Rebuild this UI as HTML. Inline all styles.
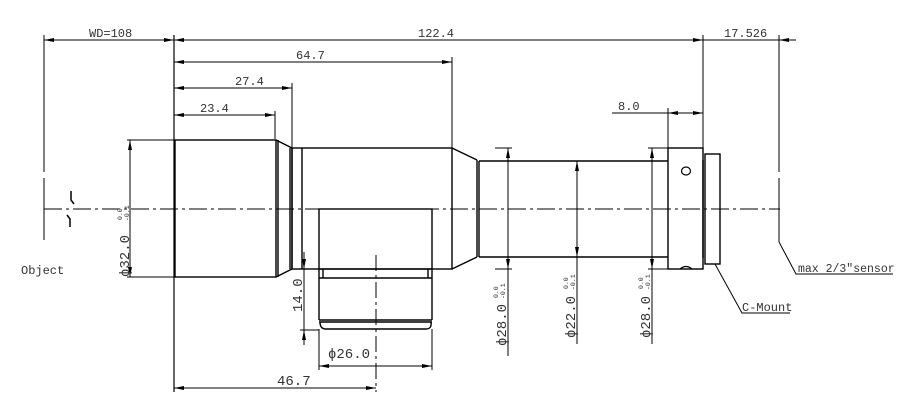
<!DOCTYPE html>
<html><head><meta charset="utf-8"><style>
html,body{margin:0;padding:0;background:#fff;}
svg{display:block;}
text{font-family:"Liberation Mono",monospace;fill:#333;}
</style></head><body>
<svg width="901" height="405" viewBox="0 0 901 405" xmlns="http://www.w3.org/2000/svg">
<defs>
<marker id="a" viewBox="0 0 10 4" refX="10" refY="2" markerWidth="10" markerHeight="4" orient="auto-start-reverse" markerUnits="userSpaceOnUse"><path d="M0,0 L10,2 L0,4 Z" fill="#000"/></marker>
</defs>
<g stroke="#000" stroke-width="1" fill="none">
<path d="M44,209 H780" stroke-dasharray="18,4,3,4" stroke-width="1"/>
<path d="M44,35 V172 M44,178 V240"/>
<path d="M44,40 H174" marker-start="url(#a)" marker-end="url(#a)"/>
<path d="M174,35 V392" stroke-width="1.2"/>
<path d="M174,40 H703" marker-start="url(#a)" marker-end="url(#a)"/>
<path d="M703,35 V148"/>
<path d="M703,40 H796" />
<path d="M796,40 H779" marker-end="url(#a)"/>
<path d="M779,35 V172 M779,178 V242"/>
<path d="M779,242 L796,274 H893"/>
<path d="M174,62 H452" marker-start="url(#a)" marker-end="url(#a)"/>
<path d="M452,57 V148"/>
<path d="M174,88 H292" marker-start="url(#a)" marker-end="url(#a)"/>
<path d="M292,83 V148"/>
<path d="M174,115 H275" marker-start="url(#a)" marker-end="url(#a)"/>
<path d="M275,111 V139"/>
<g stroke-width="1.4">
<rect x="175" y="140" width="101" height="137"/>
<path d="M276,140 L292,148 M276,277 L292,269 M278,140 V277"/>
<path d="M290,148 V269 M292,148 V269"/>
<rect x="292" y="148" width="160" height="121"/>
<path d="M302,148 V269"/>
<rect x="319" y="209" width="113" height="60"/>
<path d="M323,269 V278 M428,269 V278 M319,269 V320 M432,269 V320 M319,278 H432"/>
<path d="M319,320 H432 M319,322 H432 M320,322 Q320,329 326,329 H426 Q432,329 431,322"/>
<path d="M452,148 L477,160 M452,269 L477,257 M477,160 V257 M479,161 V257"/>
<path d="M479,161 H668 M479,257 H668"/>
<rect x="668" y="148" width="35" height="121"/>
<rect x="705" y="154" width="15" height="110"/>
<path d="M703,160 V258"/>
</g>
<ellipse cx="686" cy="171" rx="4.5" ry="4" stroke-width="1.2"/>
<path d="M680,269 Q686,264 692,269" stroke-width="1.2"/>
<path d="M376,255 V392" stroke-dasharray="16,4,3,4"/>
<path d="M304,252 V269" marker-end="url(#a)"/>
<path d="M304,345 V330" marker-end="url(#a)"/>
<path d="M304,269 V330"/>
<path d="M300,330 H319"/>
<path d="M319,329 V370 M432,329 V370"/>
<path d="M319,366 H432" marker-start="url(#a)" marker-end="url(#a)"/>
<path d="M174,388 H376" marker-start="url(#a)" marker-end="url(#a)"/>
<path d="M127,140 H174 M127,277 H174"/>
<path d="M130,140 V277" marker-start="url(#a)" marker-end="url(#a)"/>
<path d="M495,148 H512 M495,269 H512"/>
<path d="M508,148 V269" marker-start="url(#a)" marker-end="url(#a)"/>
<path d="M508,269 V356"/>
<path d="M577,161 V257" marker-start="url(#a)" marker-end="url(#a)"/>
<path d="M577,257 V344"/>
<path d="M648,148 H668 M648,269 H668"/>
<path d="M652,148 V269" marker-start="url(#a)" marker-end="url(#a)"/>
<path d="M652,269 V344"/>
<path d="M612,113 H668"/>
<path d="M668,113 H703" marker-start="url(#a)" marker-end="url(#a)"/>
<path d="M668,108 V148"/>
<path d="M715,264 L742,313 H790"/>
<path d="M71,191 V200 L74,204 M67,215 L70,219 V227" stroke-width="1.5"/>
</g>
<g font-size="12">
<text x="89" y="37">WD=108</text>
<text x="418" y="37">122.4</text>
<text x="724" y="37">17.526</text>
<text x="296" y="59">64.7</text>
<text x="235" y="85">27.4</text>
<text x="200" y="112">23.4</text>
<text x="618" y="110">8.0</text>
<text x="21" y="274">Object</text>
<text x="798" y="272" font-size="11.5">max 2/3″sensor</text>
<text x="742" y="311">C-Mount</text>
</g>
<g font-size="14">
<text x="328" y="358">ϕ26.0</text>
<text x="277" y="385">46.7</text>
<text transform="translate(302,312) rotate(-90)">14.0</text>
<text transform="translate(129,277) rotate(-90)">ϕ32.0</text>
<text transform="translate(506,346) rotate(-90)">ϕ28.0</text>
<text transform="translate(575,338) rotate(-90)">ϕ22.0</text>
<text transform="translate(650,338) rotate(-90)">ϕ28.0</text>
</g>
<g font-size="6.5" style="fill:#844">
<text transform="translate(122,220) rotate(-90)">0.0</text>
<text transform="translate(129,221) rotate(-90)">-0.1</text>
<text transform="translate(498,298) rotate(-90)">0.0</text>
<text transform="translate(505,299) rotate(-90)">-0.1</text>
<text transform="translate(568,289) rotate(-90)">0.0</text>
<text transform="translate(575,290) rotate(-90)">-0.1</text>
<text transform="translate(643,289) rotate(-90)">0.0</text>
<text transform="translate(650,290) rotate(-90)">-0.1</text>
</g>
</svg>
</body></html>
